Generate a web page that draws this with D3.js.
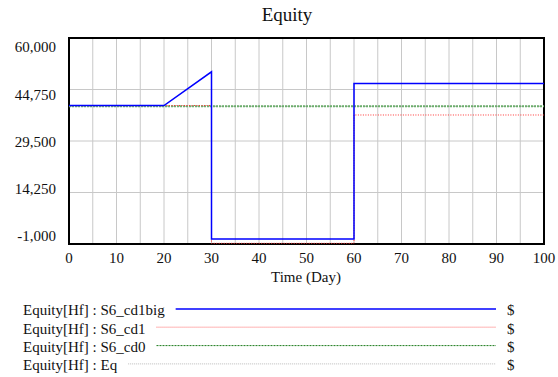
<!DOCTYPE html>
<html>
<head>
<meta charset="utf-8">
<script src="https://cdn.jsdelivr.net/npm/d3@7"></script>
<style>
  body { margin: 0; background: #fff; }
</style>
</head>
<body>
<div id="chart"></div>
<script>
// valeurs
const time    = [0, 20, 30, 30, 60, 60, 100];
const cd1big  = [40000, 40000, 50000, 500, 500, 46500, 46500];
const cd1     = [40000, 40000, 40000, -800, -800, 37200, 37200];
const cd0     = [39800, 39800, 39800, 39800, 39800, 39800, 39800];
const eq      = [39800, 39800, 39800, 39800, 39800, 39800, 39800];
const xTicks  = [0, 10, 20, 30, 40, 50, 60, 70, 80, 90, 100];
const yTicks  = [-1000, 14250, 29500, 44750, 60000];
const legendNames = ["Equity[Hf] : S6_cd1big", "Equity[Hf] : S6_cd1", "Equity[Hf] : S6_cd0", "Equity[Hf] : Eq"];

const W = 558, H = 377;
const FONT = "Liberation Serif";
const svg = d3.select("#chart").append("svg").attr("width", W).attr("height", H)
  .style("display", "block");

const x = d3.scaleLinear().domain([0, 100]).range([69, 544]);
const y = d3.scaleLinear().domain([-1000, 60000]).range([244, 38]);
// les etiquettes de l'axe y sont reparties un peu a l'interieur (style vensim)
const yLab = d3.scaleLinear().domain([-1000, 60000]).range([236, 47]);
const fmt = v => d3.format(",")(v).replace("\u2212", "-");

// titre
svg.append("text").attr("x", 287).attr("y", 21).attr("text-anchor", "middle")
  .attr("font-family", FONT).style("font-size", "19px").attr("fill", "#111").text("Equity");

// grille
const grid = svg.append("g").attr("stroke", "#c8c8c8").attr("stroke-width", 1);
grid.selectAll("line.v").data(d3.range(5, 100, 5)).enter().append("line")
  .attr("x1", d => x(d)).attr("x2", d => x(d)).attr("y1", y(60000)).attr("y2", y(-1000));
grid.selectAll("line.h").data(yTicks.slice(1, 4)).enter().append("line")
  .attr("x1", x(0)).attr("x2", x(100)).attr("y1", d => y(d)).attr("y2", d => y(d));

// cadre
svg.append("rect").attr("x", x(0)).attr("y", y(60000))
  .attr("width", x(100) - x(0)).attr("height", y(-1000) - y(60000))
  .attr("fill", "none").attr("stroke", "#000").attr("stroke-width", 2);

// etiquettes
svg.append("g").selectAll("text").data(yTicks).enter().append("text")
  .attr("x", 56).attr("y", d => yLab(d)).attr("dy", "0.35em").attr("text-anchor", "end")
  .attr("font-family", FONT).style("font-size", "15px").attr("fill", "#111").text(fmt);
svg.append("g").selectAll("text").data(xTicks).enter().append("text")
  .attr("x", d => x(d)).attr("y", 258).attr("dy", "0.35em").attr("text-anchor", "middle")
  .attr("font-family", FONT).style("font-size", "15px").attr("fill", "#111").text(d => d);
svg.append("text").attr("x", 306).attr("y", 277).attr("dy", "0.35em").attr("text-anchor", "middle")
  .attr("font-family", FONT).style("font-size", "15px").attr("fill", "#111").text("Time (Day)");

// series, dessinees de la derniere a la premiere
const series = [
  {vals: eq,     color: "#aaaaaa", width: 1,   dash: "1,1"},
  {vals: cd0,    color: "#6cae6c", width: 2,   dash: "2,1"},
  {vals: cd1,    color: "#ff3333", width: 1,   dash: "1,1.5"},
  {vals: cd1big, color: "#0000ff", width: 1.5, dash: null}
];
const line = d3.line().x(d => x(d[0])).y(d => y(d[1]));
svg.append("g").selectAll("path").data(series).enter().append("path")
  .attr("d", s => line(time.map((t, i) => [t, s.vals[i]])))
  .attr("fill", "none").attr("stroke", d => d.color).attr("stroke-width", d => d.width)
  .attr("stroke-dasharray", d => d.dash);

// legende
const legStyle = [
  {color: "#0000ff", width: 1.5, dash: null},
  {color: "#ff9a9a", width: 1.5, dash: "1,1"},
  {color: "#1a7a1a", width: 1,   dash: "2,1"},
  {color: "#bbbbbb", width: 1,   dash: "1,1"}
];
const leg = svg.append("g");
legendNames.forEach(function(name, i) {
  let yy = 310 + i * 18.3;
  let t = leg.append("text").attr("x", 23).attr("y", yy).attr("dy", "0.35em")
    .attr("font-family", FONT).style("font-size", "15px").attr("fill", "#111").text(name);
  let end = 23 + t.node().getComputedTextLength();
  leg.append("line").attr("x1", end + 11).attr("x2", 496).attr("y1", yy - 1).attr("y2", yy - 1)
    .attr("stroke", legStyle[i].color).attr("stroke-width", legStyle[i].width)
    .attr("stroke-dasharray", legStyle[i].dash);
  leg.append("text").attr("x", 507).attr("y", yy).attr("dy", "0.35em")
    .attr("font-family", FONT).style("font-size", "15px").attr("fill", "#111").text("$");
});
</script>
</body>
</html>
